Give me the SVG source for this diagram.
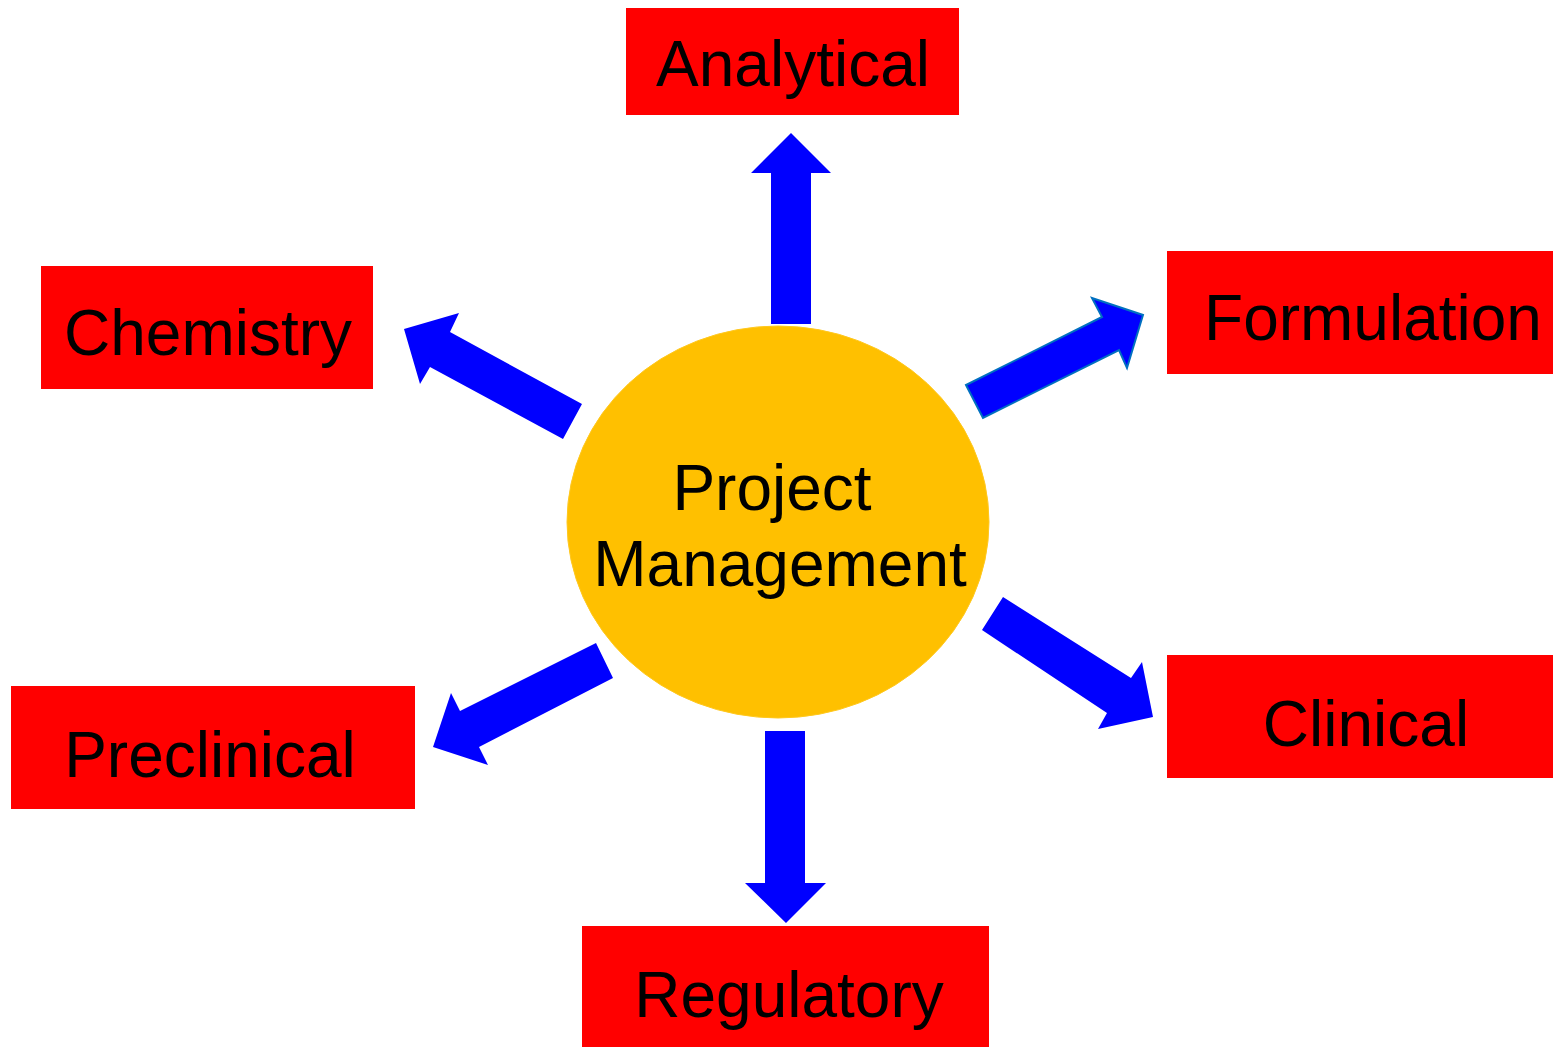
<svg xmlns="http://www.w3.org/2000/svg" width="1553" height="1047" viewBox="0 0 1553 1047">
<style>
.box{fill:#FF0000}
.lbl{font-family:"Liberation Sans",Arial,sans-serif;font-size:64px;fill:#000;text-anchor:middle}
.arr{fill:#0000FF}
</style>
<rect width="1553" height="1047" fill="#fff"/>
<g id="connectors">
<polygon class="arr" points="771,324 771,173 751,173 791,133 831,173 811,173 811,324"/>
<polygon class="arr" points="765,731 805,731 805,883 826,883 786,923 745,883 765,883"/>
<polygon class="arr" points="582,404 563,439 430,367 420,384 404,329 459,313 450,332"/>
<polygon class="arr" points="966,385 983,418 1119,350 1127,368 1143,315 1092,298 1102,317" stroke="#0070C0" stroke-width="2"/>
<polygon class="arr" points="596,643 613,678 479,747 488,765 433,747 451,693 460,711"/>
<polygon class="arr" points="1003,597 982,630 1107,713 1098,729 1153,717 1142,662 1131,678"/>
</g>
<g id="center">
<ellipse cx="778" cy="522" rx="211" ry="196" fill="#FFC000" stroke="#FFC81E" stroke-width="1"/>
<text class="lbl" x="772" y="510">Project</text>
<text class="lbl" x="780" y="586">Management</text>
</g>
<g id="analytical">
<rect class="box" x="626" y="8" width="333" height="107"/>
<text class="lbl" x="793" y="86">Analytical</text>
</g>
<g id="chemistry">
<rect class="box" x="41" y="266" width="332" height="123"/>
<text class="lbl" x="208" y="355">Chemistry</text>
</g>
<g id="formulation">
<rect class="box" x="1167" y="251" width="386" height="123"/>
<text class="lbl" x="1373" y="340">Formulation</text>
</g>
<g id="preclinical">
<rect class="box" x="11" y="686" width="404" height="123"/>
<text class="lbl" x="210" y="777">Preclinical</text>
</g>
<g id="clinical">
<rect class="box" x="1167" y="655" width="386" height="123"/>
<text class="lbl" x="1366" y="746">Clinical</text>
</g>
<g id="regulatory">
<rect class="box" x="582" y="926" width="407" height="121"/>
<text class="lbl" x="789" y="1017">Regulatory</text>
</g>
</svg>
